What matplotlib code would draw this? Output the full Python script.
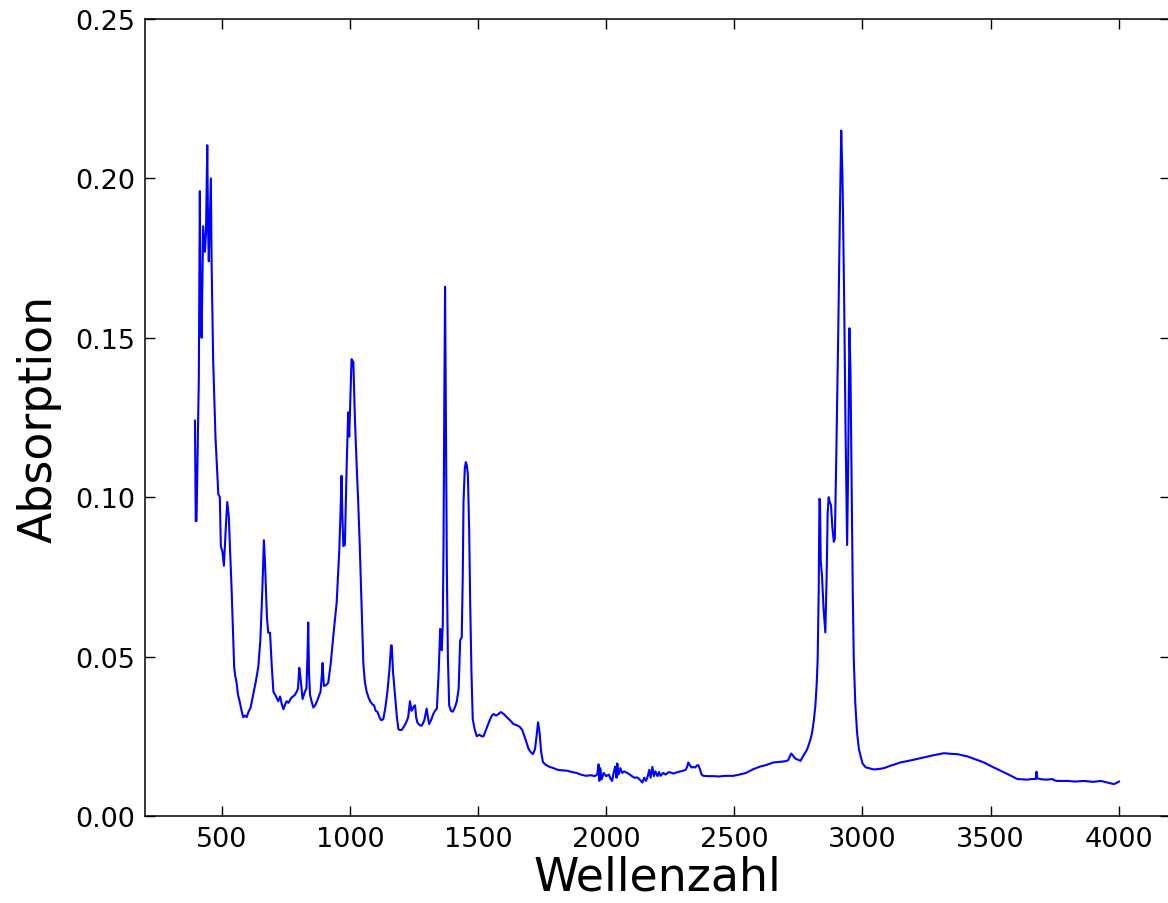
import matplotlib
matplotlib.use("Agg")
import matplotlib.pyplot as plt
from matplotlib.ticker import FormatStrFormatter, MultipleLocator

wavenumber = [
    395, 398, 401, 410, 414, 417, 421, 427, 434, 438, 443, 446, 449, 457, 460, 466, 475, 486, 492, 496,
    502, 508, 515, 521, 527, 538, 548, 552, 557, 563, 570, 577, 583, 590, 597, 603, 612, 622, 632, 642,
    650, 655, 660, 664, 668, 672, 676, 681, 688, 694, 701, 708, 714, 720, 727, 734, 740, 747, 753, 760,
    770, 778, 785, 792, 797, 802, 806, 811, 815, 824, 830, 834, 837, 840, 844, 850, 857, 866, 876, 885,
    890, 893, 898, 906, 915, 925, 935, 948, 958, 963, 967, 970, 974, 980, 987, 993, 997, 1001, 1006, 1013,
    1019, 1025, 1032, 1038, 1043, 1052, 1058, 1065, 1073, 1081, 1088, 1094, 1100, 1107, 1115, 1122, 1130, 1138, 1146, 1154,
    1160, 1163, 1168, 1176, 1183, 1189, 1195, 1202, 1210, 1219, 1227, 1234, 1240, 1245, 1250, 1254, 1258, 1263, 1272, 1280,
    1290, 1299, 1304, 1309, 1316, 1325, 1332, 1339, 1346, 1352, 1355, 1358, 1362, 1365, 1368, 1371, 1374, 1378, 1382, 1387,
    1394, 1401, 1409, 1417, 1424, 1430, 1436, 1440, 1443, 1448, 1452, 1456, 1460, 1465, 1469, 1474, 1479, 1487, 1495, 1505,
    1514, 1521, 1534, 1545, 1553, 1560, 1570, 1580, 1588, 1600, 1612, 1625, 1637, 1650, 1662, 1672, 1685, 1697, 1706, 1714,
    1722, 1728, 1734, 1740, 1746, 1753, 1765, 1779, 1795, 1810, 1830, 1848, 1865, 1885, 1900, 1921, 1940, 1955, 1965, 1970,
    1973, 1977, 1982, 1990, 2000, 2010, 2018, 2023, 2030, 2035, 2040, 2043, 2048, 2055, 2062, 2070, 2082, 2092, 2100, 2110,
    2121, 2130, 2135, 2141, 2148, 2155, 2162, 2168, 2173, 2180, 2186, 2192, 2200, 2206, 2212, 2222, 2232, 2242, 2250, 2262,
    2275, 2289, 2300, 2310, 2316, 2320, 2326, 2333, 2340, 2347, 2353, 2359, 2365, 2372, 2379, 2395, 2418, 2440, 2465, 2496,
    2520, 2545, 2574, 2600, 2625, 2652, 2680, 2700, 2710, 2718, 2722, 2728, 2738, 2750, 2758, 2770, 2784, 2795, 2803, 2810,
    2816, 2821, 2825, 2829, 2832, 2834, 2837, 2842, 2848, 2855, 2860, 2864, 2868, 2872, 2877, 2882, 2888, 2892, 2898, 2905,
    2912, 2917, 2922, 2928, 2934, 2940, 2944, 2949, 2953, 2958, 2962, 2966, 2972, 2979, 2986, 2992, 3000, 3012, 3025, 3044,
    3060, 3083, 3110, 3130, 3148, 3180, 3213, 3245, 3279, 3318, 3345, 3370, 3409, 3440, 3474, 3505, 3539, 3570, 3604, 3643,
    3660, 3676, 3679, 3682, 3700, 3720, 3741, 3748, 3760, 3799, 3830, 3864, 3900, 3930, 3960, 3982, 4001,
]

absorption = [
    0.124, 0.0925, 0.0925, 0.137, 0.196, 0.160, 0.150, 0.185, 0.177, 0.183, 0.2104, 0.185, 0.174, 0.200, 0.173, 0.143, 0.119, 0.101, 0.100, 0.0846,
    0.083, 0.0785, 0.090, 0.0985, 0.094, 0.071, 0.0467, 0.044, 0.042, 0.038, 0.0357, 0.033, 0.031, 0.0315, 0.031, 0.0325, 0.034, 0.038, 0.042, 0.0467,
    0.055, 0.0647, 0.076, 0.0865, 0.080, 0.071, 0.062, 0.0575, 0.0575, 0.048, 0.039, 0.038, 0.037, 0.036, 0.0375, 0.035, 0.0335, 0.035, 0.036, 0.0355,
    0.037, 0.0375, 0.038, 0.039, 0.040, 0.0465, 0.044, 0.040, 0.0367, 0.039, 0.040, 0.050, 0.0607, 0.045, 0.038, 0.036, 0.034, 0.035, 0.037, 0.039,
    0.044, 0.048, 0.0408, 0.041, 0.0418, 0.048, 0.0566, 0.067, 0.083, 0.095, 0.1067, 0.095, 0.0847, 0.085, 0.110, 0.1266, 0.119, 0.130, 0.1433, 0.1424,
    0.125, 0.112, 0.0985, 0.085, 0.072, 0.048, 0.042, 0.039, 0.037, 0.0357, 0.035, 0.0347, 0.033, 0.0327, 0.031, 0.030, 0.0304, 0.034, 0.039, 0.046,
    0.0535, 0.0535, 0.045, 0.0377, 0.031, 0.0272, 0.027, 0.027, 0.028, 0.0293, 0.031, 0.036, 0.033, 0.0337, 0.0345, 0.0347, 0.031, 0.0293, 0.0285, 0.0283,
    0.030, 0.0337, 0.031, 0.0288, 0.030, 0.032, 0.033, 0.0337, 0.045, 0.0587, 0.056, 0.052, 0.060, 0.085, 0.130, 0.166, 0.130, 0.077, 0.050, 0.0347,
    0.033, 0.0327, 0.034, 0.036, 0.040, 0.0552, 0.056, 0.075, 0.0985, 0.109, 0.111, 0.110, 0.107, 0.090, 0.067, 0.045, 0.0304, 0.027, 0.025, 0.0255,
    0.025, 0.025, 0.0277, 0.030, 0.0314, 0.032, 0.0315, 0.032, 0.0326, 0.032, 0.031, 0.030, 0.0289, 0.0285, 0.028, 0.027, 0.024, 0.021, 0.020, 0.0194,
    0.021, 0.025, 0.0294, 0.026, 0.020, 0.0169, 0.016, 0.0154, 0.015, 0.0145, 0.0143, 0.0142, 0.0138, 0.0135, 0.013, 0.0126, 0.0128, 0.0125, 0.013, 0.0162,
    0.011, 0.015, 0.0115, 0.0135, 0.0125, 0.013, 0.0115, 0.011, 0.014, 0.0155, 0.012, 0.0165, 0.013, 0.015, 0.0135, 0.014, 0.0135, 0.013, 0.0125, 0.012,
    0.0121, 0.0115, 0.011, 0.0105, 0.012, 0.011, 0.0125, 0.0145, 0.012, 0.0154, 0.0125, 0.014, 0.0125, 0.0138, 0.0126, 0.0135, 0.013, 0.0137, 0.0137, 0.0133,
    0.0137, 0.014, 0.0142, 0.0145, 0.0155, 0.0168, 0.016, 0.0152, 0.0154, 0.0152, 0.0158, 0.016, 0.0148, 0.013, 0.0126, 0.0125, 0.0125, 0.0124, 0.0126, 0.0126,
    0.013, 0.0135, 0.0147, 0.0155, 0.016, 0.0168, 0.017, 0.0172, 0.0175, 0.019, 0.0196, 0.019, 0.018, 0.0176, 0.0173, 0.019, 0.0209, 0.0235, 0.026, 0.030,
    0.0345, 0.041, 0.049, 0.070, 0.0995, 0.099, 0.080, 0.0753, 0.065, 0.0576, 0.075, 0.095, 0.100, 0.0985, 0.0975, 0.091, 0.086, 0.087, 0.114, 0.150,
    0.190, 0.215, 0.200, 0.165, 0.120, 0.085, 0.110, 0.153, 0.140, 0.100, 0.070, 0.049, 0.035, 0.026, 0.021, 0.019, 0.0165, 0.0153, 0.015, 0.0146,
    0.0147, 0.015, 0.0158, 0.0163, 0.0168, 0.0173, 0.0179, 0.0185, 0.0191, 0.0197, 0.0195, 0.0194, 0.0187, 0.0178, 0.0168, 0.0155, 0.0142, 0.013, 0.0116, 0.0114,
    0.0116, 0.0116, 0.0139, 0.0118, 0.0115, 0.0114, 0.0116, 0.0112, 0.011, 0.011, 0.0108, 0.011, 0.0107, 0.011, 0.0104, 0.0100, 0.0108,
]

x_ticks = [500, 1000, 1500, 2000, 2500, 3000, 3500, 4000]
x_label = "Wellenzahl"
y_label = "Absorption"

plt.rcParams['font.family'] = ['DejaVu Sans']

fig = plt.figure(figsize=(11.68, 9.04), dpi=100, facecolor='white')
ax = fig.add_axes([145/1168, 87/904, 1025/1168, 797/904])
ax.plot(wavenumber, absorption, color='#0000ff', lw=1.5)

ax.set_xlim(200, 4200)
ax.set_ylim(0, 0.25)
ax.set_xticks(x_ticks)
ax.yaxis.set_major_locator(MultipleLocator(0.05))
ax.yaxis.set_major_formatter(FormatStrFormatter('%.2f'))
ax.tick_params(axis='both', which='major', direction='in', length=7, width=1,
               top=True, right=True, labelsize=19.5, pad=7)
for s in ax.spines.values():
    s.set_linewidth(1.1)

ax.set_xlabel(x_label, fontsize=33, labelpad=2)
ax.set_ylabel(y_label, fontsize=33, labelpad=10)

fig.savefig("out.png", dpi=100, facecolor='white')
